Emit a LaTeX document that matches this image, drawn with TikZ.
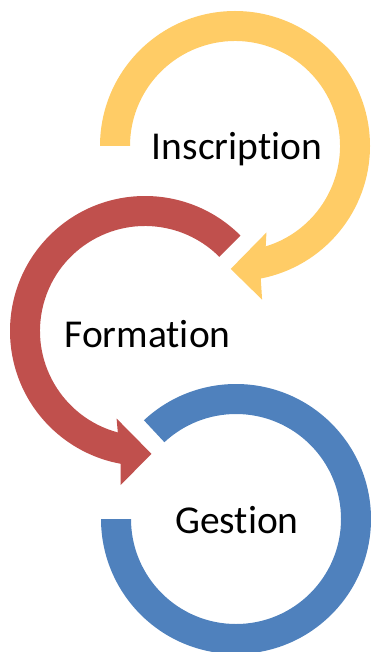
\documentclass[tikz,border=0pt]{standalone}
\usepackage{fontspec}
\setmainfont[RawFeature=-liga]{Carlito}
\usetikzlibrary{calc}
\definecolor{ygold}{HTML}{FFCC66}
\definecolor{rred}{HTML}{C0504D}
\definecolor{bblue}{HTML}{4F81BD}
\begin{document}
\begin{tikzpicture}[x=1pt,y=-1pt,
  lbl/.style={anchor=base,inner sep=0pt,font=\fontsize{39.5}{42}\selectfont,text=black}]
\useasboundingbox (0,0) rectangle (371,652);
\clip (0,0) rectangle (371,652);
\coordinate (cy) at (235,146);
\coordinate (cr) at (145,331);
\coordinate (cb) at (236,519);
% yellow arrow (clockwise) -- y axis flipped so angles negate
\fill[ygold] ($(cy)+(-180:135)$) arc[start angle=-180, end angle=79, radius=135]
  -- ($(cy)+(80:156)$) -- ($(cy)+(92:123)$) -- ($(cy)+(70:92)$) -- ($(cy)+(73:105)$)
  arc[start angle=73, end angle=-180, radius=105] -- cycle;
% red arrow
\fill[rred] ($(cr)+(-45:135)$) arc[start angle=-45, end angle=-259.6, radius=135]
  -- ($(cr)+(-261:156)$) -- ($(cr)+(-273:123)$) -- ($(cr)+(-252:92)$) -- ($(cr)+(-255:105)$)
  arc[start angle=-255, end angle=-45, radius=105] -- cycle;
% blue ring
\fill[bblue] ($(cb)+(-133:135)$) arc[start angle=-133, end angle=180, radius=135]
  -- ($(cb)+(180:105)$) arc[start angle=180, end angle=-133, radius=105] -- cycle;
\node[lbl] (ins) at (237,160) {Inscription};
\node[lbl] (form) at (147.5,347) {Formation};
\node[lbl] (gest) at (237,533) {Gestion};
\end{tikzpicture}
\end{document}
